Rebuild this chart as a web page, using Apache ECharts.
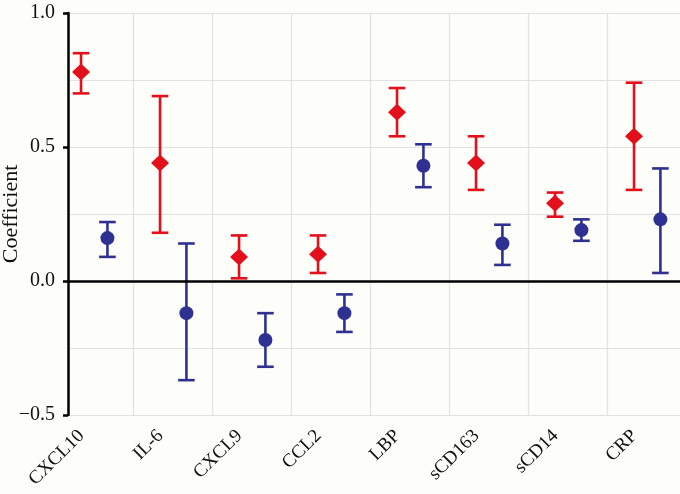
<!DOCTYPE html>
<html>
<head>
<meta charset="utf-8">
<script src="https://cdn.jsdelivr.net/npm/echarts@6/dist/echarts.min.js"></script>
<style>
html,body{margin:0;padding:0;background:#fdfdf9;}
#chart{width:680px;height:494px;}
</style>
</head>
<body>
<div id="chart"></div>
<script>
const categories = ['CXCL10', 'IL-6', 'CXCL9', 'CCL2', 'LBP', 'sCD163', 'sCD14', 'CRP'];
const redEst  = [0.78, 0.44, 0.09, 0.10, 0.63, 0.44, 0.29, 0.54];
const redLow  = [0.70, 0.18, 0.01, 0.03, 0.54, 0.34, 0.24, 0.34];
const redHigh = [0.85, 0.69, 0.17, 0.17, 0.72, 0.54, 0.33, 0.74];
const blueEst  = [0.16, -0.12, -0.22, -0.12, 0.43, 0.14, 0.19, 0.23];
const blueLow  = [0.09, -0.37, -0.32, -0.19, 0.35, 0.06, 0.15, 0.03];
const blueHigh = [0.22, 0.14, -0.12, -0.05, 0.51, 0.21, 0.23, 0.42];
const yTickLabels = ['-0.5', '0.0', '0.5', '1.0'];

const RED = '#e3101b';
const BLUE = '#2e3191';
const FONT = '"Liberation Serif", "Times New Roman", serif';
const DODGE = 0.167;
const LABEL_SHIFT = -0.163;

const boundaries = categories.slice(1).map((_, i) => i + 0.5);
const labelPos = categories.map((_, i) => i + LABEL_SHIFT);

function pts(est, off) { return est.map((v, i) => [i + off, v]); }
function bars(lo, hi, off) { return lo.map((v, i) => [i + off, v, hi[i]]); }

function errRender(color) {
  return function (params, api) {
    const x = api.value(0);
    const a = api.coord([x, api.value(1)]);
    const b = api.coord([x, api.value(2)]);
    const hw = 8.3;
    const style = { stroke: color, lineWidth: 2.6 };
    return {
      type: 'group',
      children: [
        { type: 'line', shape: { x1: a[0], y1: a[1], x2: b[0], y2: b[1] }, style },
        { type: 'line', shape: { x1: a[0] - hw, y1: a[1], x2: a[0] + hw, y2: a[1] }, style },
        { type: 'line', shape: { x1: b[0] - hw, y1: b[1], x2: b[0] + hw, y2: b[1] }, style }
      ]
    };
  };
}

const chart = echarts.init(document.getElementById('chart'), null, { renderer: 'canvas' });
chart.setOption({
  backgroundColor: '#fdfdf9',
  animation: false,
  grid: { left: 68, right: 0, top: 13, bottom: 79, containLabel: false, outerBoundsMode: 'none' },
  xAxis: {
    type: 'value',
    min: -0.332,
    max: 7.415,
    axisLine: { show: false, onZero: false },
    axisTick: { show: false, customValues: boundaries },
    splitLine: { show: true, lineStyle: { color: '#e2e2e0', width: 1.2 } },
    axisLabel: {
      customValues: labelPos,
      rotate: 45,
      margin: 18,
      fontFamily: FONT,
      fontSize: 19,
      color: '#111',
      formatter: v => categories[Math.round(v - LABEL_SHIFT)]
    }
  },
  yAxis: {
    type: 'value',
    min: -0.5,
    max: 1.0,
    interval: 0.5,
    name: 'Coefficient',
    nameLocation: 'middle',
    nameRotate: 90,
    nameGap: 46,
    nameMoveOverlap: false,
    nameTextStyle: { fontFamily: FONT, fontSize: 22, color: '#111' },
    axisLine: { show: true, onZero: false, lineStyle: { color: '#000', width: 2.5 } },
    axisTick: { show: true, length: 5, lineStyle: { color: '#000', width: 2.5 } },
    minorTick: { show: false, splitNumber: 2 },
    splitLine: { show: true, lineStyle: { color: '#e2e2e0', width: 1.2 } },
    minorSplitLine: { show: true, lineStyle: { color: '#e2e2e0', width: 1.2 } },
    axisLabel: {
      margin: 13,
      fontFamily: FONT,
      fontSize: 20,
      color: '#111',
      formatter: v => yTickLabels[Math.round((v + 0.5) / 0.5)].replace('-', '\u2212')
    }
  },
  series: [
    {
      type: 'line',
      data: [],
      markLine: {
        silent: true,
        symbol: 'none',
        label: { show: false },
        lineStyle: { color: '#000', width: 2.5, type: 'solid' },
        data: [{ yAxis: 0 }]
      }
    },
    {
      type: 'custom',
      renderItem: errRender(RED),
      encode: { x: 0, y: [1, 2] },
      data: bars(redLow, redHigh, -DODGE),
      z: 3
    },
    {
      type: 'custom',
      renderItem: errRender(BLUE),
      encode: { x: 0, y: [1, 2] },
      data: bars(blueLow, blueHigh, DODGE),
      z: 3
    },
    {
      type: 'scatter',
      symbol: 'diamond',
      symbolSize: [18, 17],
      itemStyle: { color: RED, opacity: 1 },
      data: pts(redEst, -DODGE),
      z: 4
    },
    {
      type: 'scatter',
      symbol: 'circle',
      symbolSize: 14,
      itemStyle: { color: BLUE, opacity: 1 },
      data: pts(blueEst, DODGE),
      z: 4
    }
  ]
});
</script>
</body>
</html>
